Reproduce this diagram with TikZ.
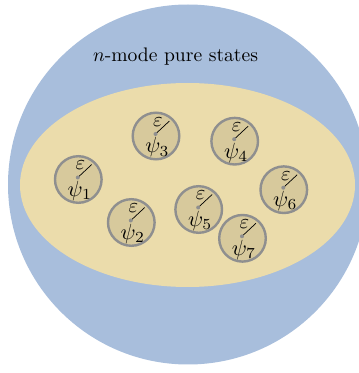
\documentclass[tikz,border=0pt]{standalone}
\definecolor{spaceblue}{HTML}{A8BEDC}
\definecolor{setyellow}{HTML}{EBDCAB}
\definecolor{balltan}{HTML}{D7C99C}
\definecolor{ballgray}{HTML}{8F8F8F}
\begin{document}
\begin{tikzpicture}[x=1pt, y=1pt,
            ball/.style = {shape=circle, draw=ballgray, fill=balltan,
                line width=2.4pt, minimum size=46.6pt, inner sep=0pt},
            eps/.style = {inner sep=0pt, scale=2.05, transform shape},
            state/.style = {inner sep=0pt, scale=2.2, transform shape}]

            \useasboundingbox (0,0) rectangle (359,373);
            \clip (0,0) rectangle (359,373);

            % outer set and the ellipse inside it
            \fill[spaceblue] (188,188.5) circle (180);
            \fill[setyellow] (187.5,188) ellipse [x radius=167.5, y radius=102];

            \node[scale=1.96, transform shape] (title) at (175.5,316.5)
                {$n$-mode pure states};

            \node[ball] (psi1) at (78.3,193.5) {};
            \node[ball] (psi2) at (131.3,150.5) {};
            \node[ball] (psi3) at (156,237) {};
            \node[ball] (psi4) at (234.7,231.8) {};
            \node[ball] (psi5) at (198.7,163.5) {};
            \node[ball] (psi6) at (283.8,183.3) {};
            \node[ball] (psi7) at (242.5,134.7) {};

            \foreach \i in {1,...,7} {
                \coordinate (c\i) at ([shift={(-0.5,2)}]psi\i.center);
                \draw[line width=0.7pt] (c\i) -- ++(43:19);
                \fill[ballgray] (c\i) circle (2);
                \node[eps] (eps\i) at ([shift={(2.5,12)}]c\i) {$\varepsilon$};
                \node[state] (lab\i) at ([shift={(2,-13.5)}]c\i) {$\psi_\i$};
            }

        \end{tikzpicture}
\end{document}
